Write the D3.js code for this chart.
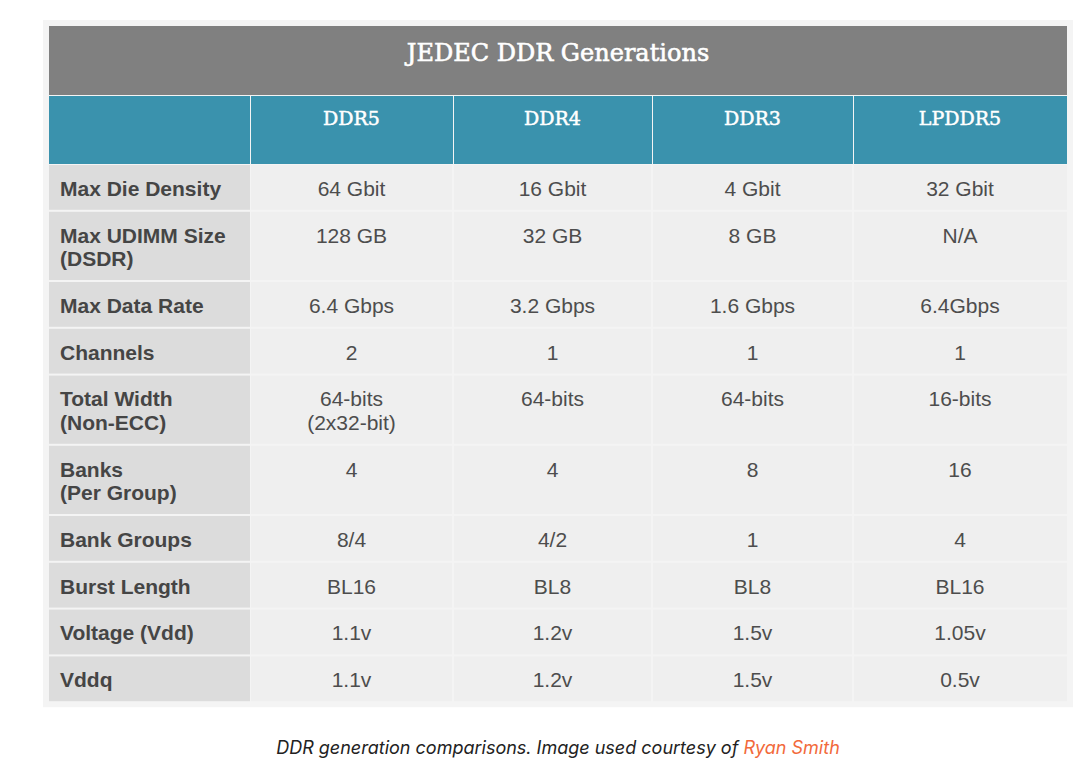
<!DOCTYPE html>
<html>
<head>
<meta charset="utf-8">
<script src="https://cdn.jsdelivr.net/npm/d3@7"></script>
<style>
  html, body { margin: 0; padding: 0; background: #fff; }
  svg { display: block; }
</style>
</head>
<body>
<svg id="chart" width="1086" height="775"></svg>
<script>
// data
var title = 'JEDEC DDR Generations';
var generations = ['DDR5', 'DDR4', 'DDR3', 'LPDDR5'];
var specs = [
    'Max Die Density|',
    'Max UDIMM Size|(DSDR)',
    'Max Data Rate|',
    'Channels|',
    'Total Width|(Non-ECC)',
    'Banks|(Per Group)',
    'Bank Groups|',
    'Burst Length|',
    'Voltage (Vdd)|',
    'Vddq|'
];
var ddr5   = ['64 Gbit', '128 GB', '6.4 Gbps', '2', '64-bits|(2x32-bit)', '4',  '8/4', 'BL16', '1.1v',  '1.1v'];
var ddr4   = ['16 Gbit', '32 GB',  '3.2 Gbps', '1', '64-bits',            '4',  '4/2', 'BL8',  '1.2v',  '1.2v'];
var ddr3   = ['4 Gbit',  '8 GB',   '1.6 Gbps', '1', '64-bits',            '8',  '1',   'BL8',  '1.5v',  '1.5v'];
var lpddr5 = ['32 Gbit', 'N/A',    '6.4Gbps',  '1', '16-bits',            '16', '4',   'BL16', '1.05v', '0.5v'];
var caption = 'DDR generation comparisons. Image used courtesy of ';
var credit  = 'Ryan Smith';

// layout
var layout = {
    left: 49, right: 1067,
    titleTop: 26, titleH: 69,
    headTop: 96, headH: 68,
    bodyTop: 165,
    lineH: 23.4,
    colWidths: [201, 203, 199, 201, 214],
    gap: 2
};

var svg = d3.select('#chart');
var series = [ddr5, ddr4, ddr3, lpddr5];
var lines = s => s.split('|').filter(t => t.length);

var colX = d3.cumsum([layout.left].concat(layout.colWidths));

// row heights from number of text lines
var rows = specs.map((s, i) => {
    var n = d3.max([lines(s).length].concat(series.map(c => lines(c[i]).length)));
    return { label: s, index: i, height: (n + 1) * layout.lineH };
});
var rowY = d3.cumsum([layout.bodyTop].concat(rows.map(r => r.height)));
var bottom = rowY[rowY.length - 1];

// outer frame
svg.append('rect')
    .attr('x', layout.left - 6).attr('y', layout.titleTop - 6)
    .attr('width', layout.right - layout.left + 12)
    .attr('height', bottom - layout.titleTop + 10)
    .attr('fill', '#f4f4f4');

// title bar
svg.append('rect')
    .attr('x', layout.left).attr('y', layout.titleTop)
    .attr('width', layout.right - layout.left).attr('height', layout.titleH)
    .attr('fill', '#808080');

svg.append('text')
    .attr('x', (layout.left + layout.right) / 2)
    .attr('y', layout.titleTop + 27)
    .attr('text-anchor', 'middle')
    .attr('dominant-baseline', 'central')
    .attr('font-family', '"DejaVu Serif", serif')
    .attr('font-size', 24)
    .attr('fill', '#fff')
    .attr('stroke', '#fff')
    .attr('stroke-width', 0.6)
    .text(title);

// header row
var head = svg.selectAll('.head')
    .data([''].concat(generations))
    .enter().append('g')
    .attr('class', 'head');

head.append('rect')
    .attr('x', (d, i) => colX[i] + (i ? 1 : 0))
    .attr('y', layout.headTop)
    .attr('width', (d, i) => layout.colWidths[i] - (i ? 1 : 0))
    .attr('height', layout.headH)
    .attr('fill', '#3a92ad');

head.append('text')
    .attr('x', (d, i) => colX[i] + layout.colWidths[i] / 2)
    .attr('y', layout.headTop + 22)
    .attr('text-anchor', 'middle')
    .attr('dominant-baseline', 'central')
    .attr('font-family', '"DejaVu Serif", serif')
    .attr('font-size', 19)
    .attr('fill', '#fff')
    .attr('stroke', '#fff')
    .attr('stroke-width', 0.5)
    .text(d => d);

// body rows
var row = svg.selectAll('.row')
    .data(rows)
    .enter().append('g')
    .attr('class', 'row')
    .attr('transform', (r, i) => `translate(0, ${ rowY[i] })`);

row.each(function (r) {
    var _this = d3.select(this);
    var cells = [r.label].concat(series.map(c => c[r.index]));

    var cell = _this.selectAll('.cell')
        .data(cells)
        .enter().append('g')
        .attr('class', 'cell');

    cell.append('rect')
        .attr('x', (d, i) => colX[i] + (i ? 1 : 0))
        .attr('y', 0)
        .attr('width', (d, i) => layout.colWidths[i] - (i ? 1 : 0) - (i && i < 4 ? 1 : 0))
        .attr('height', r.height - layout.gap)
        .attr('fill', (d, i) => i ? '#efefef' : '#dcdcdc');

    cell.append('text')
        .attr('x', (d, i) => i ? colX[i] + layout.colWidths[i] / 2 : colX[0] + 11)
        .attr('text-anchor', (d, i) => i ? 'middle' : 'start')
        .attr('font-family', '"Liberation Sans", Arial, sans-serif')
        .attr('font-size', 21)
        .attr('font-weight', (d, i) => i ? 'normal' : 'bold')
        .attr('fill', (d, i) => i ? '#4d4d4d' : '#454545')
        .each(function (d, i) {
            var x = d3.select(this).attr('x');
            d3.select(this).selectAll('tspan')
                .data(lines(d))
                .enter().append('tspan')
                .attr('x', x)
                .attr('y', (t, j) => layout.lineH + j * layout.lineH)
                .attr('dominant-baseline', 'central')
                .text(t => t);
        });
});

// caption
var cap = svg.append('text')
    .attr('x', 558)
    .attr('y', 747)
    .attr('text-anchor', 'middle')
    .attr('dominant-baseline', 'central')
    .attr('font-family', 'Inter, "Open Sans", sans-serif')
    .attr('font-style', 'italic')
    .attr('font-size', 18)
    .attr('fill', '#222');

cap.append('tspan').text(caption);
cap.append('tspan').attr('fill', '#f26a3b').text(credit);
</script>
</body>
</html>
